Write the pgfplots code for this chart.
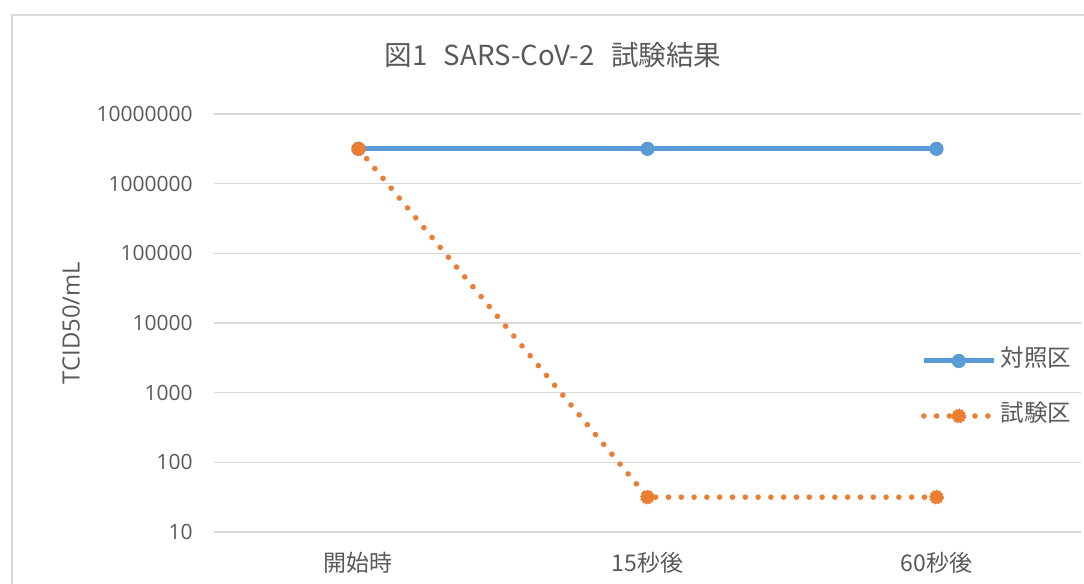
\documentclass[border=0pt]{standalone}
\usepackage{fontspec}
\setmainfont{Open Sans}
\newfontfamily\jp{Noto Sans CJK JP}
\usepackage{pgfplots}
\pgfplotsset{compat=1.18}
\definecolor{cblue}{HTML}{5B9BD5}
\definecolor{corange}{HTML}{ED7D31}
\definecolor{cgrid}{HTML}{D9D9D9}
\definecolor{ctext}{HTML}{595959}
\begin{document}
\begin{tikzpicture}
\useasboundingbox (0,0) rectangle (542pt,292pt);
\draw[cgrid, line width=1pt] (6pt,-5pt) -- (6pt,284.3pt) -- (560pt,284.3pt);
\node[text=ctext, font=\jp\fontsize{13.8}{16}\selectfont, inner sep=0pt] at (276.5pt,264.5pt) {図1\hspace{0.6em}SARS-CoV-2\hspace{0.6em}試験結果};
\begin{axis}[
  at={(107pt,26pt)}, anchor=south west,
  scale only axis, width=433.5pt, height=209pt,
  xmin=-0.5, xmax=2.5, ymin=10, ymax=1e7, ymode=log,
  xtick={0,1,2}, xticklabels={開始時,15秒後,60秒後},
  ytick={10,100,1000,10000,100000,1000000,10000000},
  yticklabels={10,100,1000,10000,100000,1000000,10000000},
  /pgf/number format/assume math mode=true,
  ymajorgrids, grid style={cgrid, line width=0.75pt},
  axis line style={draw=none}, major tick length=0pt, tick style={draw=none},
  yticklabel style={font=\fontsize{10.5}{12}\selectfont, text=ctext, anchor=east, inner sep=0pt, xshift=-10.5pt},
  xticklabel style={font=\jp\fontsize{11.5}{13}\selectfont, text=ctext, anchor=north, inner sep=0pt, yshift=-10pt},
  ylabel={TCID50/mL},
  ylabel style={at={(axis description cs:-0.1649,0.5)}, anchor=center, font=\fontsize{11.9}{14}\selectfont, text=ctext, inner sep=0pt},
  clip=false,
  legend cell align=left,
  legend image code/.code={\draw[mark repeat=2,mark phase=2,#1] plot coordinates {(0pt,0pt) (17.5pt,0pt) (35pt,0pt)};},
  legend style={at={(0.8155,0.3433)}, anchor=west, draw=none, fill=none, inner sep=0pt, outer sep=0pt, row sep=16pt,
    font=\jp\fontsize{11.75}{14}\selectfont, text=ctext,
    nodes={inner sep=0pt, text height=8.5pt, text depth=3pt},
    /tikz/every odd column/.append style={column sep=2pt}},
]
\addplot[cblue, line width=2.5pt, mark=*, mark size=3.3pt, mark options={fill=cblue, draw=cblue, line width=0.5pt}]
  coordinates {(0,3162278) (1,3162278) (2,3162278)};
\addlegendentry{対照区}
\addplot[corange, line width=2.8pt, dash pattern=on 0pt off 6.4pt, line cap=round, mark=*, mark size=3.2pt,
  mark options={solid, fill=corange, draw=corange, line width=1.3pt, dash pattern=on 0pt off 1.6pt, line cap=round}]
  coordinates {(0,3162278) (1,31.62) (2,31.62)};
\addlegendentry{試験区}
\end{axis}
\end{tikzpicture}
\end{document}
